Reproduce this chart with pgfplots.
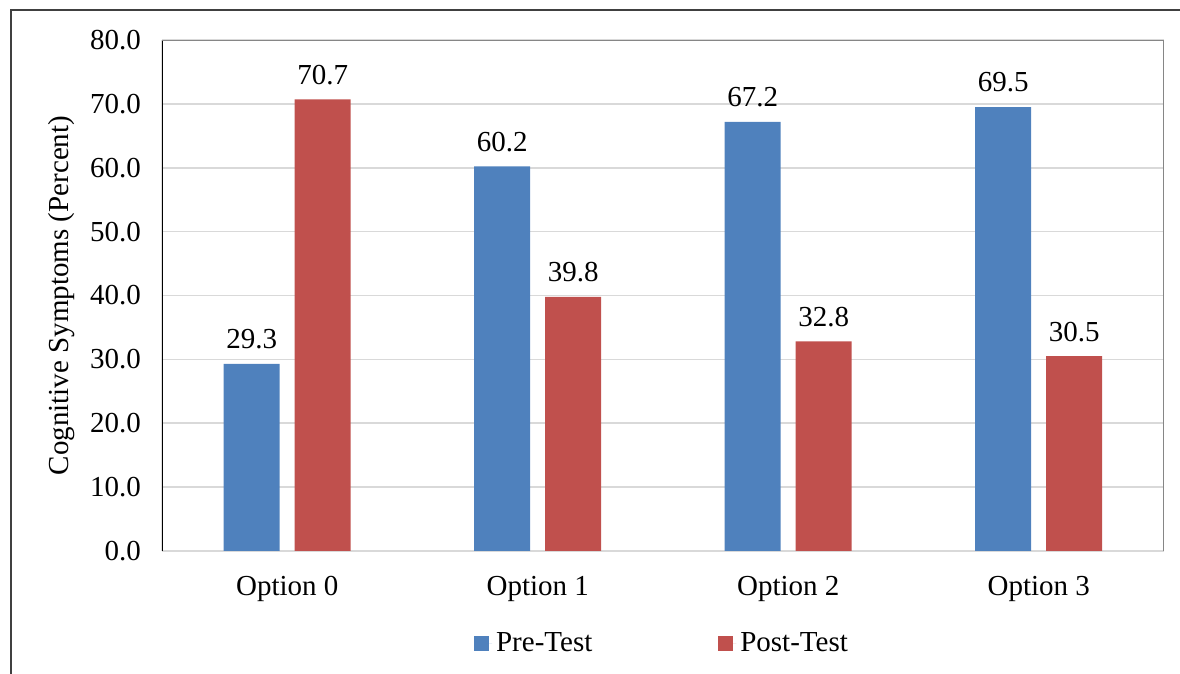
\documentclass[border=0pt]{standalone}
\usepackage{pgfplots}
\pgfplotsset{compat=1.18}
\usepackage{fontspec}
\setmainfont{Liberation Serif}

\definecolor{preblue}{HTML}{4F81BD}
\definecolor{postred}{HTML}{C0504D}
\definecolor{gridgray}{HTML}{D9D9D9}
\definecolor{boxgray}{HTML}{868686}

\begin{document}
\begin{tikzpicture}[font=\fontsize{14.5}{17}\selectfont]
\begin{axis}[
  at={(81pt,61.5pt)}, anchor=south west,
  scale only axis, width=501pt, height=255.5pt,
  ybar=7.5pt, bar width=28pt,
  xmin=-0.5, xmax=3.5, ymin=0, ymax=80,
  xtick={0,1,2,3},
  xticklabels={Option 0,Option 1,Option 2,Option 3},
  ytick={0,10,...,80},
  major tick length=0pt,
  ymajorgrids,
  grid style={gridgray, line width=0.75pt},
  axis line style={draw=none},
  /pgf/number format/assume math mode=true,
  yticklabel style={/pgf/number format/.cd, fixed, fixed zerofill, precision=1, /tikz/.cd, xshift=-7pt},
  xticklabel style={yshift=-9pt},
  ylabel={Cognitive Symptoms (Percent)},
  ylabel style={at={(axis description cs:-0.1,0.5)}, anchor=center},
  nodes near coords,
  nodes near coords style={/pgf/number format/.cd, fixed, fixed zerofill, precision=1, /tikz/.cd, yshift=3.8pt, text=black},
  legend style={at={(0.5,-0.182)}, anchor=center, draw=none, legend columns=2,
    /tikz/every even column/.append style={column sep=61pt}},
  legend cell align=left,
  legend image code/.code={\fill[#1] (0pt,-3.75pt) rectangle (7.5pt,3.75pt);
    \path (0pt,0pt) -- (9pt,0pt);},
]
\addplot[fill=preblue, draw=none] coordinates {(0,29.3) (1,60.2) (2,67.2) (3,69.5)};
\addlegendentry{Pre-Test}
\addplot[fill=postred, draw=none] coordinates {(0,70.7) (1,39.8) (2,32.8) (3,30.5)};
\addlegendentry{Post-Test}
% plot-area border: dark left edge, grey top and right edges
\draw[black, line width=0.75pt] (rel axis cs:0,0) -- (rel axis cs:0,1);
\draw[boxgray, line width=0.75pt] (rel axis cs:0,1) -- (rel axis cs:1,1) -- (rel axis cs:1,0);
\end{axis}
% outer chart frame
\draw[black!75, line width=1pt] (5.5pt,-2pt) -- (5.5pt,332pt) -- (592pt,332pt);
\pgfresetboundingbox
\useasboundingbox (0,0) rectangle (590pt,337pt);
\end{tikzpicture}
\end{document}
